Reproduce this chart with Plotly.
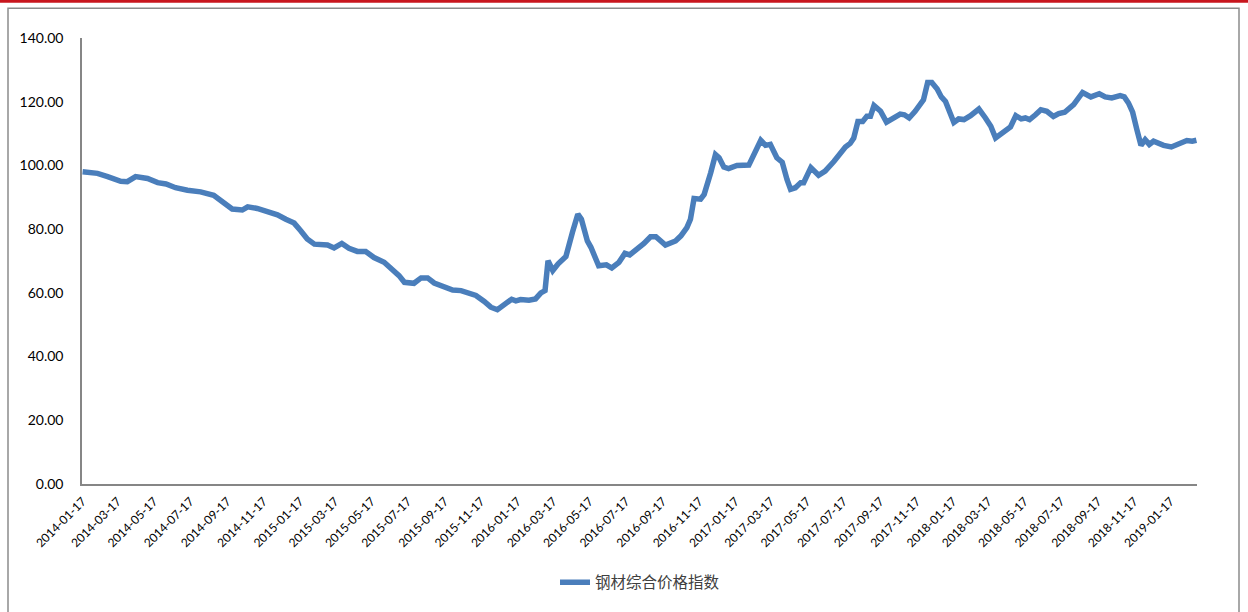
import plotly.graph_objects as go

series_name = "钢材综合价格指数"

dates = [
    "2014-01-17", "2014-02-11", "2014-02-28", "2014-03-22", "2014-04-02", "2014-04-16",
    "2014-05-06", "2014-05-23", "2014-06-06", "2014-06-22", "2014-07-12", "2014-08-03",
    "2014-08-25", "2014-09-11", "2014-09-25", "2014-10-12", "2014-10-21", "2014-11-06",
    "2014-11-23", "2014-12-10", "2014-12-24", "2015-01-07", "2015-01-18", "2015-01-29",
    "2015-02-10", "2015-03-04", "2015-03-15", "2015-03-28", "2015-04-09", "2015-04-23",
    "2015-05-07", "2015-05-21", "2015-06-07", "2015-06-24", "2015-07-02", "2015-07-11",
    "2015-07-27", "2015-08-08", "2015-08-19", "2015-08-30", "2015-09-16", "2015-09-30",
    "2015-10-14", "2015-10-28", "2015-11-08", "2015-11-22", "2015-12-03", "2015-12-14",
    "2015-12-28", "2016-01-07", "2016-01-14", "2016-01-22", "2016-02-05", "2016-02-16",
    "2016-02-25", "2016-03-03", "2016-03-08", "2016-03-16", "2016-03-25", "2016-04-07",
    "2016-04-18", "2016-04-27", "2016-05-03", "2016-05-13", "2016-05-19", "2016-06-01",
    "2016-06-14", "2016-06-23", "2016-07-05", "2016-07-15", "2016-07-23", "2016-08-05",
    "2016-08-16", "2016-08-27", "2016-09-05", "2016-09-21", "2016-10-08", "2016-10-17",
    "2016-10-27", "2016-11-02", "2016-11-08", "2016-11-19", "2016-11-25", "2016-12-06",
    "2016-12-14", "2016-12-20", "2016-12-28", "2017-01-05", "2017-01-19", "2017-02-08",
    "2017-02-16", "2017-02-28", "2017-03-08", "2017-03-16", "2017-03-27", "2017-04-05",
    "2017-04-13", "2017-04-19", "2017-04-27", "2017-05-06", "2017-05-11", "2017-05-23",
    "2017-06-05", "2017-06-16", "2017-07-01", "2017-07-20", "2017-07-28", "2017-08-03",
    "2017-08-10", "2017-08-18", "2017-08-25", "2017-08-31", "2017-09-06", "2017-09-17",
    "2017-09-27", "2017-10-09", "2017-10-20", "2017-10-27", "2017-11-04", "2017-11-14",
    "2017-11-28", "2017-12-05", "2017-12-12", "2017-12-21", "2017-12-28", "2018-01-04",
    "2018-01-18", "2018-01-26", "2018-02-04", "2018-02-15", "2018-03-01", "2018-03-12",
    "2018-03-21", "2018-03-29", "2018-04-09", "2018-04-23", "2018-05-02", "2018-05-11",
    "2018-05-18", "2018-05-25", "2018-06-04", "2018-06-13", "2018-06-23", "2018-07-04",
    "2018-07-13", "2018-07-23", "2018-08-07", "2018-08-14", "2018-08-22", "2018-09-05",
    "2018-09-19", "2018-09-29", "2018-10-10", "2018-10-24", "2018-10-31", "2018-11-07",
    "2018-11-14", "2018-11-21", "2018-11-28", "2018-12-05", "2018-12-12", "2018-12-19",
    "2018-12-28", "2019-01-05", "2019-01-18", "2019-01-30", "2019-02-13", "2019-02-22",
    "2019-03-01",
]

values = [
    98.0, 97.5, 96.5, 95.0, 94.9, 96.5,
    95.9, 94.6, 94.2, 93.0, 92.2, 91.7,
    90.6, 88.0, 86.3, 86.0, 87.0, 86.5,
    85.5, 84.5, 83.1, 81.9, 79.5, 76.9,
    75.3, 75.0, 74.1, 75.5, 74.0, 73.0,
    73.0, 71.1, 69.6, 67.0, 65.4, 63.3,
    63.0, 64.7, 64.7, 63.1, 62.0, 60.9,
    60.7, 59.7, 59.2, 57.3, 55.5, 54.7,
    56.4, 58.0, 57.5, 57.9, 57.7, 58.1,
    60.0, 60.7, 70.1, 67.0, 69.1, 71.4,
    79.0, 84.7, 83.1, 76.3, 74.3, 68.5,
    68.8, 67.8, 69.6, 72.4, 71.9, 73.8,
    75.5, 77.6, 77.6, 75.0, 76.3, 77.9,
    80.5, 83.1, 89.6, 89.4, 90.9, 97.7,
    103.4, 102.4, 99.5, 99.0, 100.0, 100.1,
    102.9, 107.9, 106.3, 106.6, 102.4, 101.0,
    95.6, 92.5, 93.0, 94.6, 94.6, 99.3,
    96.9, 98.2, 101.3, 105.8, 106.9, 108.6,
    113.8, 113.8, 115.4, 115.4, 118.8, 117.0,
    113.6, 114.9, 116.1, 115.9, 114.9, 117.0,
    120.6, 126.0, 126.0, 124.0, 121.5, 120.1,
    113.5, 114.6, 114.4, 115.6, 117.7, 114.9,
    112.3, 108.6, 110.2, 112.1, 115.6, 114.6,
    114.9, 114.4, 115.9, 117.5, 117.0, 115.4,
    116.3, 116.7, 119.1, 120.8, 122.9, 121.5,
    122.5, 121.5, 121.2, 121.9, 121.5, 119.6,
    116.7, 111.3, 106.3, 108.1, 106.6, 107.6,
    106.9, 106.3, 105.8, 106.6, 107.8, 107.6,
    107.9,
]

tick_dates = [
    "2014-01-17", "2014-03-17", "2014-05-17", "2014-07-17", "2014-09-17", "2014-11-17",
    "2015-01-17", "2015-03-17", "2015-05-17", "2015-07-17", "2015-09-17", "2015-11-17",
    "2016-01-17", "2016-03-17", "2016-05-17", "2016-07-17", "2016-09-17", "2016-11-17",
    "2017-01-17", "2017-03-17", "2017-05-17", "2017-07-17", "2017-09-17", "2017-11-17",
    "2018-01-17", "2018-03-17", "2018-05-17", "2018-07-17", "2018-09-17", "2018-11-17",
    "2019-01-17",
]

W, H = 1248, 612
L, R, T, B = 82, 1197, 38, 486  # plot area in pixels


def px(x):
    return (x - L) / (R - L)


def py(y):
    return (B - y) / (B - T)


fig = go.Figure()
fig.add_trace(go.Scatter(
    x=dates, y=values, mode="lines", name=series_name,
    line=dict(color="#4A7EBB", width=5.5),
))

fig.update_layout(
    width=W, height=H,
    margin=dict(l=L, r=W - R, t=T, b=H - B),
    plot_bgcolor="white", paper_bgcolor="white",
    showlegend=True,
    legend=dict(orientation="h", x=px(555), xanchor="left", y=py(585), yanchor="middle",
                font=dict(family="Noto Sans CJK SC", size=15.5, color="#404040")),
    font=dict(family="Lato, Noto Sans CJK SC", color="black"),
    shapes=[
        dict(type="rect", xref="paper", yref="paper",
             x0=px(8), x1=px(1239), y0=py(640), y1=py(8),
             line=dict(color="#8C8C8C", width=1.5), layer="below"),
        dict(type="line", xref="paper", yref="paper",
             x0=px(0), x1=px(1248), y0=py(1), y1=py(1),
             line=dict(color="#C8161E", width=3)),
    ],
)

fig.update_xaxes(
    type="date", range=["2014-01-16", "2019-03-02"],
    tickmode="array", tickvals=tick_dates, ticktext=tick_dates,
    tickangle=-45, tickfont=dict(size=12, family="Lato"),
    showline=True, linecolor="#868686", linewidth=1.5,
    showgrid=False, zeroline=False, ticks="", ticklabelstandoff=4,
)
fig.update_yaxes(
    range=[0, 140], dtick=20, tickformat=".2f",
    tickfont=dict(size=14, family="Lato"),
    showline=True, linecolor="#868686", linewidth=1.5,
    showgrid=False, zeroline=False, ticks="", ticklabelstandoff=14,
)

fig.write_html("out.html", config={"displayModeBar": False},
               post_script="document.body.style.margin='0';")
